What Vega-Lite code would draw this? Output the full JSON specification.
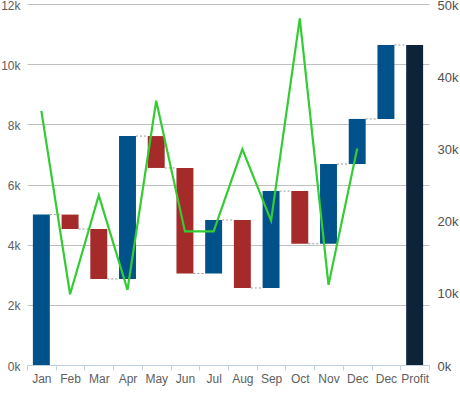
{
  "$schema": "https://vega.github.io/schema/vega-lite/v6.json",
  "width": 402,
  "height": 361,
  "autosize": "none",
  "padding": {"left": 27, "top": 4, "right": 31, "bottom": 48},
  "config": {
    "view": {"stroke": null},
    "font": "Liberation Sans",
    "axis": {"labelFont": "Liberation Sans", "titleFont": "Liberation Sans"}
  },
  "data": {
    "values": [
      {"cat": "Jan", "start": 0, "end": 5000, "type": "inc", "pct": 35200, "next": "Feb"},
      {"cat": "Feb", "start": 5000, "end": 4520, "type": "dec", "pct": 9800, "next": "Mar"},
      {"cat": "Mar", "start": 4520, "end": 2860, "type": "dec", "pct": 23500, "next": "Apr"},
      {"cat": "Apr", "start": 2860, "end": 7610, "type": "inc", "pct": 10400, "next": "May"},
      {"cat": "May", "start": 7610, "end": 6550, "type": "dec", "pct": 36600, "next": "Jun"},
      {"cat": "Jun", "start": 6550, "end": 3040, "type": "dec", "pct": 18500, "next": "Jul"},
      {"cat": "Jul", "start": 3040, "end": 4820, "type": "inc", "pct": 18500, "next": "Aug"},
      {"cat": "Aug", "start": 4820, "end": 2560, "type": "dec", "pct": 29900, "next": "Sep"},
      {"cat": "Sep", "start": 2560, "end": 5780, "type": "inc", "pct": 20000, "next": "Oct"},
      {"cat": "Oct", "start": 5780, "end": 4030, "type": "dec", "pct": 48000, "next": "Nov"},
      {"cat": "Nov", "start": 4030, "end": 6680, "type": "inc", "pct": 11100, "next": "Dec"},
      {"cat": "Dec", "start": 6680, "end": 8180, "type": "inc", "pct": 30000, "next": "Dec2"},
      {"cat": "Dec2", "start": 8180, "end": 10640, "type": "inc", "pct": null, "next": "Profit"},
      {"cat": "Profit", "start": 0, "end": 10640, "type": "total", "pct": null, "next": null}
    ]
  },
  "encoding": {
    "x": {
      "field": "cat",
      "type": "nominal",
      "sort": null,
      "scale": {"paddingInner": 0, "paddingOuter": 0},
      "axis": {
        "title": null,
        "labelAngle": 0,
        "labelExpr": "datum.label == 'Dec2' ? 'Dec' : datum.label",
        "labelFontSize": 12,
        "labelColor": "#606060",
        "labelPadding": 3,
        "domainColor": "#C0D0E0",
        "tickColor": "#C0D0E0",
        "tickSize": 5,
        "tickBand": "extent",
        "grid": false
      }
    }
  },
  "layer": [
    {
      "layer": [
        {
          "mark": {"type": "bar", "width": {"band": 0.59}},
          "encoding": {
            "y": {
              "field": "start",
              "type": "quantitative",
              "scale": {"domain": [0, 12000], "nice": false},
              "axis": {
                "title": null,
                "values": [0, 2000, 4000, 6000, 8000, 10000, 12000],
                "labelExpr": "datum.value / 1000 + 'k'",
                "labelFontSize": 12,
                "labelColor": "#606060",
                "labelPadding": 7,
                "labelOffset": 1,
                "domain": false,
                "ticks": false,
                "gridColor": "#C0C0C0",
                "gridOpacity": 1
              }
            },
            "y2": {"field": "end"},
            "color": {
              "field": "type",
              "type": "nominal",
              "scale": {"domain": ["inc", "dec", "total"], "range": ["#01528A", "#A52A2A", "#0D233A"]},
              "legend": null
            }
          }
        },
        {
          "transform": [{"filter": "datum.next != null"}],
          "mark": {"type": "rule", "color": "#999999", "strokeDash": [2, 2], "strokeWidth": 1},
          "encoding": {
            "x": {"field": "cat", "type": "nominal", "sort": null, "bandPosition": 0.795},
            "x2": {"field": "next", "bandPosition": 0.205},
            "y": {"field": "end", "type": "quantitative"}
          }
        }
      ]
    },
    {
      "transform": [{"filter": "datum.pct != null"}],
      "mark": {"type": "line", "color": "#33CC33", "strokeWidth": 2.2},
      "encoding": {
        "y": {
          "field": "pct",
          "type": "quantitative",
          "scale": {"domain": [0, 50000], "nice": false},
          "axis": {
            "orient": "right",
            "title": null,
            "values": [0, 10000, 20000, 30000, 40000, 50000],
            "labelExpr": "datum.value / 1000 + 'k'",
            "labelFontSize": 13,
            "labelColor": "#505050",
            "labelPadding": 8,
            "labelOffset": 1,
            "domain": false,
            "ticks": false,
            "gridColor": "#C0C0C0",
            "gridOpacity": 1
          }
        }
      }
    }
  ],
  "resolve": {"scale": {"y": "independent"}}
}
